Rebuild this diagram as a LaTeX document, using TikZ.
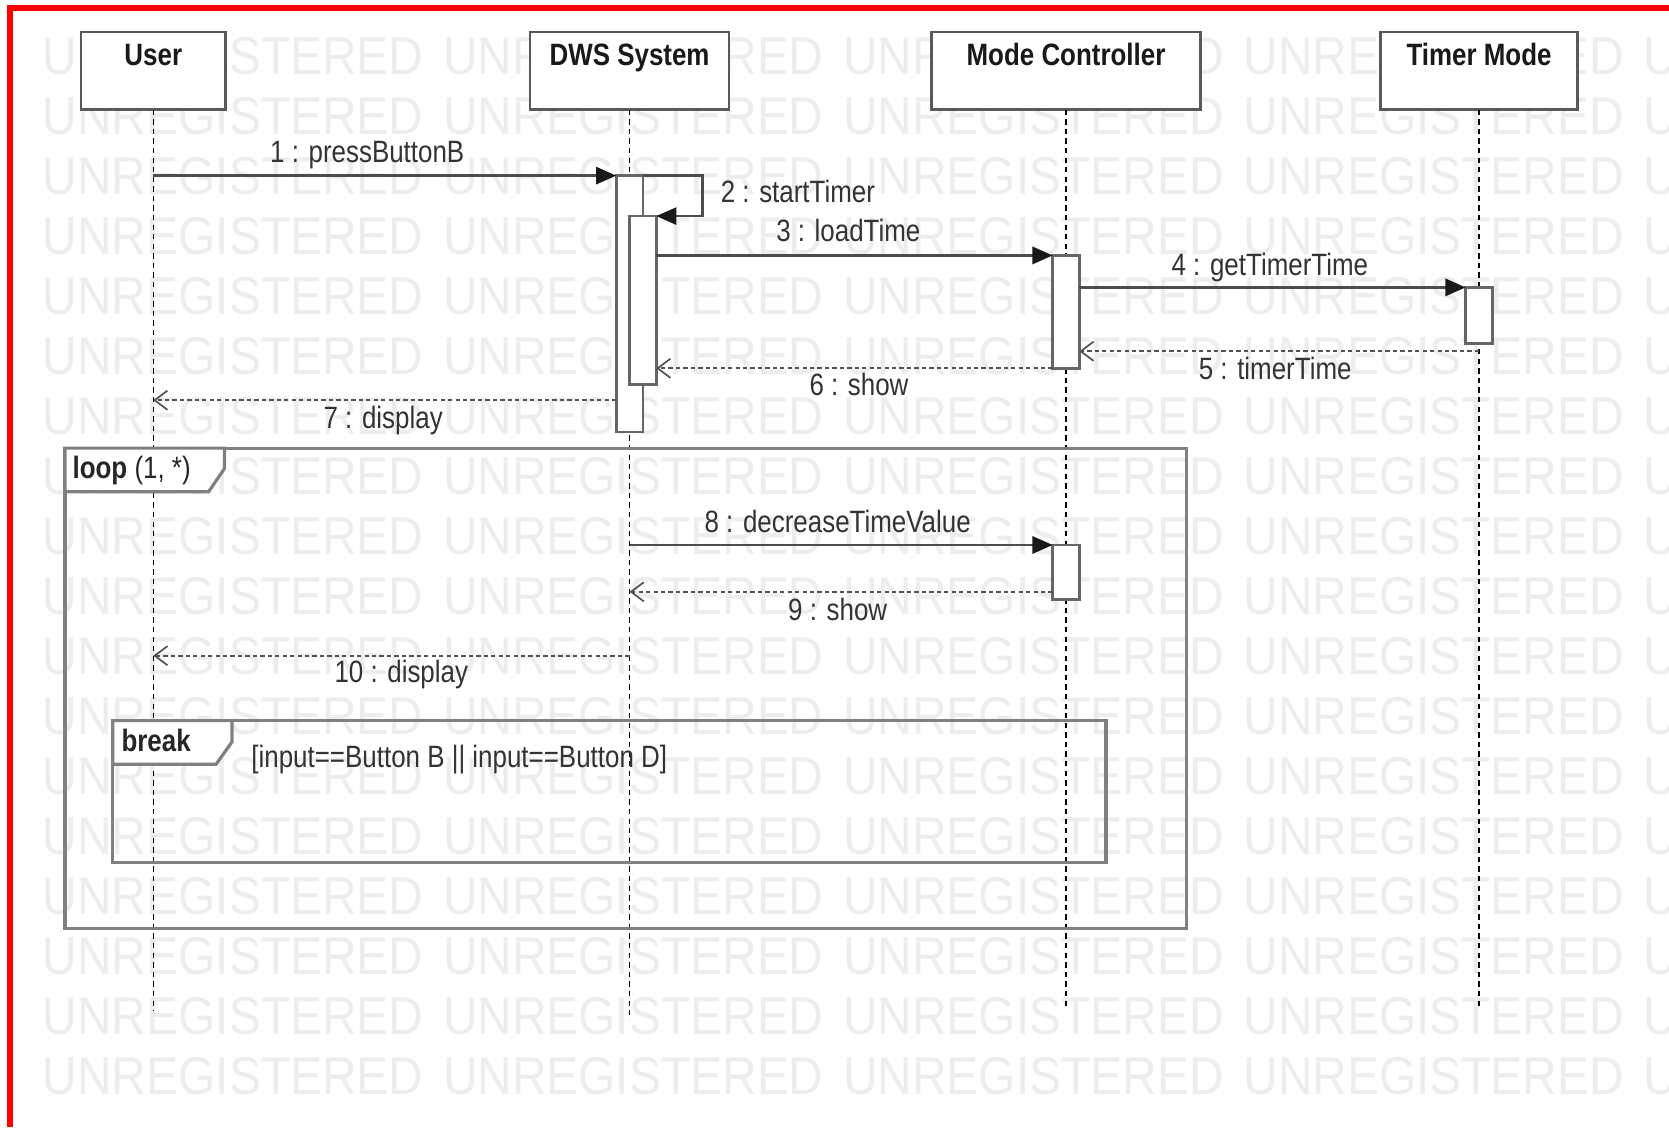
\documentclass[tikz,border=0pt]{standalone}
\usepackage{fontspec}
\setmainfont{Liberation Sans}[FakeStretch=0.84]
\newfontfamily\wmfont{Liberation Sans}[FakeStretch=0.9]
\usetikzlibrary{arrows.meta}
\begin{document}
\begin{tikzpicture}[x=1pt,y=-1pt,
  hdbox/.style={draw=black!65, line width=2.5pt, fill=white, inner sep=0pt, outer sep=0pt, anchor=north west},
  hdtext/.style={font=\bfseries\fontsize{29}{34}\selectfont, text=black!90, anchor=base, inner sep=0pt},
  lifeline/.style={draw=black, line width=1.2pt, dash pattern=on 5pt off 4pt},
  actbar/.style={draw=black!60, line width=2.5pt, fill=white, minimum width=25pt, inner sep=0pt, outer sep=0pt, anchor=north},
  msg/.style={draw=black!70, line width=2.6pt, -{Triangle[length=19pt,width=16pt,color=black!90]}},
  ret/.style={draw=black!68, line width=2.2pt, dash pattern=on 4pt off 3pt, -{Straight Barb[length=12pt,width=18pt,line width=1.6pt]}},
  mlabel/.style={font=\fontsize{29}{34}\selectfont, text=black!80, anchor=base, inner sep=0pt},
  framebox/.style={draw=black!50, line width=3pt, inner sep=0pt, outer sep=0pt, anchor=north west},
  framepent/.style={draw=black!50, line width=3pt, fill=white},
  wm/.style={font=\wmfont\fontsize{50}{60}\selectfont, text=black!7, anchor=base west, inner sep=0pt}
]
% canvas
\useasboundingbox[fill=white] (0,0) rectangle (1568,1059);
% watermark
\begin{scope}
\clip (0,0) rectangle (1568,1059);
\foreach \r in {0,...,17}{
  \foreach \c in {0,...,4}{
    \node[wm] (wm-\r-\c) at ({40+376*\c},{70+56.35*\r}) {UNREGISTERED};
  }
}
\end{scope}
% red border
\draw[red, line width=5.6pt] (9.7,1059) -- (9.7,7.5) -- (1568,7.5);

% lifeline heads
\node[hdbox, minimum width=136pt, minimum height=73pt] (user) at (76,30) {};
\node[hdbox, minimum width=187pt, minimum height=73pt] (dws) at (498,30) {};
\node[hdbox, minimum width=253pt, minimum height=73pt] (mc) at (875,30) {};
\node[hdbox, minimum width=185pt, minimum height=73pt] (tm) at (1297,30) {};
\node[hdtext] (userlbl) at (144,62) {User};
\node[hdtext] (dwslbl) at (591.5,62) {DWS System};
\node[hdtext] (mclbl) at (1001.5,62) {Mode Controller};
\node[hdtext] (tmlbl) at (1389.5,62) {Timer Mode};

% lifelines
\path (user.south) ++(0,847) coordinate (userEnd);
\path (dws.south) ++(0,855) coordinate (dwsEnd);
\path (mc.south) ++(0,845) coordinate (mcEnd);
\path (tm.south) ++(0,842) coordinate (tmEnd);
\draw[lifeline] (user.south) -- (userEnd);
\draw[lifeline] (dws.south) -- (dwsEnd);
\draw[lifeline] (mc.south) -- (mcEnd);
\draw[lifeline] (tm.south) -- (tmEnd);

% combined fragments
\node[framebox, minimum width=1054pt, minimum height=451pt] (loop) at (61,421) {};
\draw[framepent] (loop.north west) -- ++(150,0) -- ++(0,19) -- ++(-15,22) -- ++(-135,0) -- cycle;
\node[mlabel, anchor=base west, text=black!85] (looplbl) at (68,450) {\textbf{loop} (1, *)};
\node[framebox, minimum width=933pt, minimum height=133pt] (brk) at (106,677) {};
\draw[framepent] (brk.north west) -- ++(112,0) -- ++(0,20) -- ++(-15,21) -- ++(-97,0) -- cycle;
\node[mlabel, anchor=base west, text=black!85] (brklbl) at (114,706) {\textbf{break}};
\node[mlabel, anchor=base west] (guard) at (236,721) {[input==Button B || input==Button D]};

% activation bars
\node[actbar, minimum height=241pt] (dws1) at (591.5,165) {};
\node[actbar, minimum height=158pt] (dws2) at (604,203) {};
\node[actbar, minimum height=106pt] (mc1) at (1001.5,240) {};
\node[actbar, minimum height=53pt] (tm1) at (1389.5,270) {};
\node[actbar, minimum height=51pt] (mc2) at (1001.5,512) {};

% messages
\draw[msg] (user.south |- dws1.north) -- (dws1.north west);
\node[mlabel] (m1) at (345,153) {1 : pressButtonB};
\draw[msg] (dws1.north east) -- ++(56,0) |- (dws2.north east);
\node[mlabel, anchor=base west] (m2) at (677,190) {2 : startTimer};
\draw[msg] (dws2.east |- mc1.north) -- (mc1.north west);
\node[mlabel] (m3) at (797,227) {3 : loadTime};
\draw[msg] (mc1.east |- tm1.north) -- (tm1.north west);
\node[mlabel] (m4) at (1193,259) {4 : getTimerTime};
\coordinate (r5) at (1389.5,330);
\draw[ret] (r5) -- (mc1.east |- r5);
\node[mlabel] (m5) at (1198,357) {5 : timerTime};
\draw[ret] (mc1.south west) -- (dws2.east |- mc1.south);
\node[mlabel] (m6) at (807,372) {6 : show};
\coordinate (r7) at (579,376);
\draw[ret] (dws1.west |- r7) -- (user.south |- r7);
\node[mlabel] (m7) at (360,403) {7 : display};
\draw[msg] (dws.south |- mc2.north) -- (mc2.north west);
\node[mlabel] (m8) at (787,500) {8 : decreaseTimeValue};
\coordinate (r9) at (989,556);
\draw[ret] (mc2.west |- r9) -- (dws.south |- r9);
\node[mlabel] (m9) at (787,583) {9 : show};
\coordinate (r10) at (592,616);
\draw[ret] (dws.south |- r10) -- (user.south |- r10);
\node[mlabel] (m10) at (377,641) {10 : display};
\end{tikzpicture}
\end{document}
